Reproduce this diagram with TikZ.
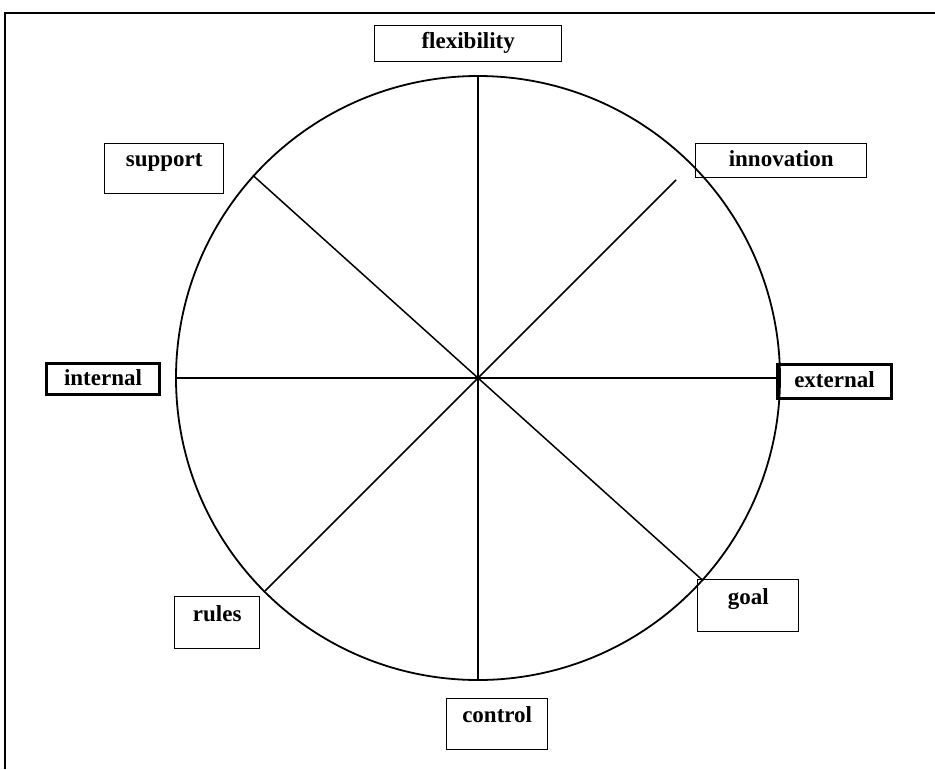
\documentclass[tikz,border=0pt]{standalone}
\usepackage{fontspec}
\setmainfont{Liberation Serif}
\usetikzlibrary{positioning}
\tikzstyle{tag} = [draw, line width=1.4pt, inner sep=0pt, anchor=north west, font=\bfseries\fontsize{23}{26}\selectfont]
\tikzstyle{heavytag} = [tag, line width=3pt]
\tikzstyle{spoke} = [line width=1.5pt]

\begin{document}
\begin{tikzpicture}[x=1pt,y=-1pt]
\useasboundingbox (0,0) rectangle (935,769);

% frame, top and left only
\draw[line width=2.5pt] (935,13) -- (5,13) -- (5,769);

\node[circle, draw, line width=1.8pt, minimum size=604pt, inner sep=0pt] (wheel) at (478,378) {};
\coordinate (ne) at (676,180);

\node[tag, minimum width=187pt, text height=23pt, text depth=13pt] (flex) at (374,25) {flexibility};
\node[tag, minimum width=171pt, text height=23pt, text depth=11pt] (innov) at (695,143) {innovation};
\node[tag, minimum width=119pt, text height=23pt, text depth=27pt] (supp) at (104,143) {support};
\node[heavytag, minimum width=113pt, text height=22pt, text depth=9pt] (intern) at (45,362) {internal};
\node[heavytag, minimum width=114pt, text height=23pt, text depth=11pt] (extern) at (776,363) {external};
\node[tag, minimum width=85pt, text height=25pt, text depth=27pt] (rules) at (174,596) {rules};
\node[tag, minimum width=101pt, text height=25pt, text depth=27pt] (goal) at (697,579) {goal};
\node[tag, minimum width=101pt, text height=24pt, text depth=27pt] (contr) at (446,698) {control};

\draw[spoke] (wheel.north) -- (wheel.south);
\draw[spoke] (wheel.west) -- (wheel.east);
\draw[spoke] (wheel.138) -- (wheel.-42);
\draw[spoke] (ne) -- (wheel.-135);

\end{tikzpicture}
\end{document}
